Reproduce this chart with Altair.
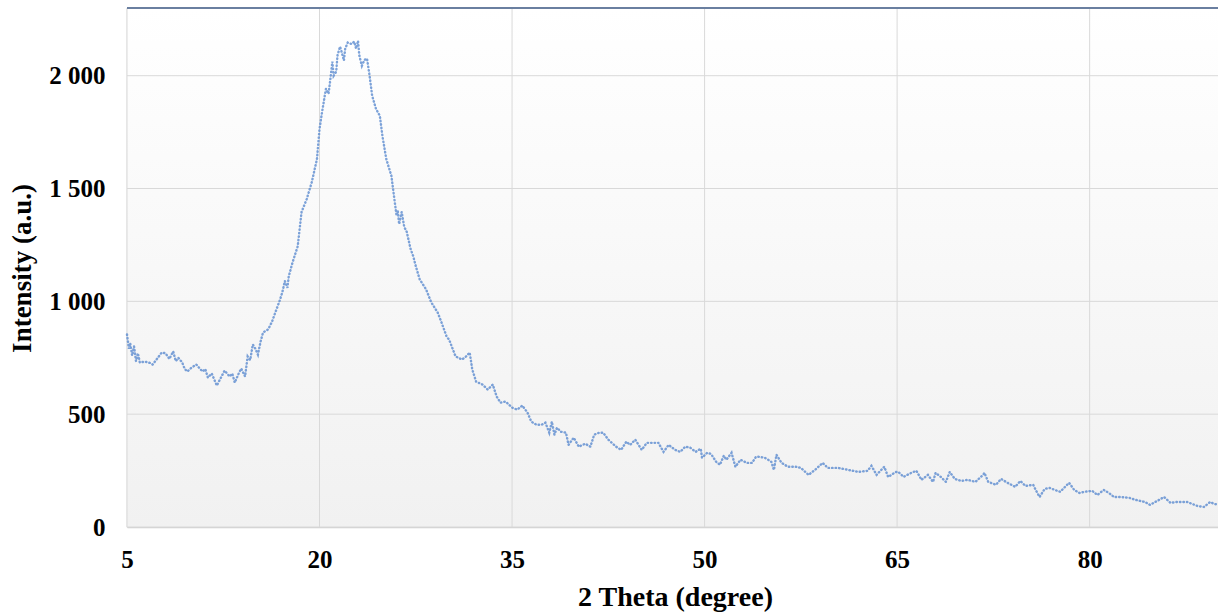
import altair as alt
import pandas as pd

theta = [5.00, 5.15, 5.25, 5.40, 5.55, 5.70, 5.85, 6.0, 6.4, 6.8, 7.0, 7.4, 7.7, 8.0, 8.3, 8.6, 8.8, 9.0, 9.3, 9.5,
         9.7, 10.0, 10.4, 10.7, 10.9, 11.1, 11.3, 11.6, 12.0, 12.3, 12.6, 12.8, 13.0, 13.2, 13.4, 13.7, 13.9, 14.0,
         14.2, 14.4, 14.6, 14.8, 15.0, 15.2, 15.4, 15.6, 16.0, 16.3, 16.5, 16.9, 17.1, 17.3, 17.5, 17.6, 17.9, 18.3,
         18.6, 19.0, 19.4, 19.8, 20.0, 20.2, 20.5, 20.7, 20.8, 21.0, 21.1, 21.3, 21.4, 21.6, 21.75, 21.9, 22.0, 22.2,
         22.5, 22.7, 22.85, 23.0, 23.1, 23.3, 23.5, 23.7, 23.9, 24.1, 24.4, 24.7, 24.9, 25.2, 25.6, 25.8, 26.0, 26.1,
         26.2, 26.4, 26.6, 26.8, 27.1, 27.3, 27.5, 27.8, 28.0, 28.3, 28.7, 29.2, 29.5, 29.9, 30.1, 30.3, 30.6, 31.1,
         31.4, 31.7, 31.9, 32.2, 32.7, 33.1, 33.5, 33.8, 34.1, 34.5, 35.0, 35.4, 35.8, 36.2, 36.5, 36.9, 37.3, 37.6,
         37.9, 38.1, 38.3, 38.5, 38.8, 39.2, 39.4, 39.8, 40.2, 40.7, 41.1, 41.4, 41.8, 42.1, 42.5, 43.1, 43.5, 43.9,
         44.2, 44.6, 45.1, 45.5, 45.9, 46.4, 46.8, 47.2, 47.7, 48.1, 48.5, 48.9, 49.3, 49.7, 49.8, 50.2, 50.5, 50.9,
         51.2, 51.5, 51.7, 52.1, 52.4, 52.8, 53.3, 53.7, 54.0, 54.2, 54.7, 55.2, 55.4, 55.6, 56.0, 56.5, 57.1, 57.5,
         58.1, 58.6, 59.2, 59.6, 60.4, 61.2, 62.0, 62.7, 63.0, 63.4, 64.0, 64.3, 64.9, 65.1, 65.5, 66.1, 66.5, 66.9,
         67.4, 67.8, 68.0, 68.4, 68.8, 69.1, 69.5, 70.0, 70.5, 71.1, 71.7, 71.8, 72.1, 72.7, 73.1, 73.6, 74.2, 74.6,
         75.0, 75.6, 75.8, 76.1, 76.5, 76.9, 77.3, 77.7, 78.4, 78.8, 79.2, 79.6, 80.2, 80.6, 81.1, 81.5, 81.9, 82.4,
         83.1, 83.6, 84.3, 84.7, 85.4, 85.8, 86.3, 86.8, 87.6, 88.4, 88.9, 89.4, 89.7, 90.0]

intensity = [853, 790, 815, 760, 800, 735, 770, 729, 733, 727, 720, 750, 773, 770, 745, 778, 735, 750, 729, 700,
             689, 705, 720, 700, 689, 700, 662, 680, 627, 660, 693, 680, 667, 680, 640, 680, 702, 690,
             667, 756, 740, 809, 790, 764, 820, 862, 876, 910, 942, 1004, 1040, 1090, 1060, 1110, 1173, 1244,
             1396, 1453, 1529, 1631, 1764, 1840, 1942, 1920, 1964, 2062, 2000, 2018, 2090, 2129, 2100, 2067, 2120, 2147,
             2140, 2151, 2120, 2155, 2089, 2044, 2070, 2076, 2000, 1911, 1853, 1822, 1733, 1631, 1556, 1467, 1380, 1400,
             1342, 1396, 1330, 1307, 1231, 1200, 1156, 1098, 1080, 1053, 996, 951, 907, 844, 830, 800, 756, 742,
             755, 773, 698, 644, 631, 609, 631, 578, 551, 556, 529, 520, 538, 507, 467, 453, 453, 462,
             418, 467, 409, 440, 422, 418, 364, 396, 356, 369, 356, 409, 418, 418, 387, 356, 342, 378,
             364, 387, 342, 373, 373, 373, 333, 364, 342, 333, 356, 351, 333, 347, 307, 329, 324, 289,
             276, 316, 298, 329, 267, 298, 284, 284, 311, 311, 307, 289, 253, 320, 284, 267, 267, 262,
             231, 253, 284, 262, 262, 253, 244, 249, 271, 231, 267, 222, 244, 244, 222, 240, 249, 209,
             231, 200, 240, 222, 200, 244, 213, 204, 209, 200, 231, 240, 200, 187, 213, 196, 178, 204,
             182, 187, 164, 133, 169, 173, 164, 156, 196, 164, 151, 156, 160, 142, 164, 151, 133, 133,
             129, 120, 111, 98, 120, 133, 107, 111, 111, 93, 89, 111, 102, 100]

x_ticks = [5, 20, 35, 50, 65, 80]
y_ticks = [0, 500, 1000, 1500, 2000]

df = pd.DataFrame({"theta": theta, "intensity": intensity})
xg = pd.DataFrame({"v": x_ticks})
yg = pd.DataFrame({"v": y_ticks})

W, H = 1091, 519
FONT = "Liberation Serif"
xscale = alt.Scale(domain=[5, 90], nice=False, zero=False)
yscale = alt.Scale(domain=[0, 2300], nice=False)

bg = alt.Chart(df).mark_rect(
    color=alt.LinearGradient(gradient="linear",
                             stops=[alt.GradientStop(color="#ffffff", offset=0),
                                    alt.GradientStop(color="#f1f1f1", offset=1)],
                             x1=0, x2=0, y1=0, y2=1)
).encode(x=alt.value(0), x2=alt.value(W), y=alt.value(0), y2=alt.value(H))

xgrid = alt.Chart(xg).mark_rule(color="#d9d9d9", strokeWidth=1).encode(
    x=alt.X("v:Q", scale=xscale))
ygrid = alt.Chart(yg).mark_rule(color="#d9d9d9", strokeWidth=1).encode(
    y=alt.Y("v:Q", scale=yscale))

line = alt.Chart(df).mark_line(
    color="#5b8bd0", strokeWidth=2.4, strokeDash=[0.5, 3.0], strokeCap="round", opacity=0.8
).encode(
    x=alt.X("theta:Q", scale=xscale,
            axis=alt.Axis(values=x_ticks, title="2 Theta (degree)", labelFontSize=25,
                          labelPadding=20, ticks=False, labelFlush=False, grid=False,
                          titleFontSize=28, titleX=548, titleY=70, titleBaseline="middle",
                          titleAlign="center")),
    y=alt.Y("intensity:Q", scale=yscale,
            axis=alt.Axis(values=y_ticks, title="Intensity (a.u.)", labelFontSize=25,
                          labelPadding=22, ticks=False, grid=False,
                          labelExpr="replace(format(datum.value, ','), ',', ' ')",
                          titleFontSize=27, titleX=-105, titleY=260, titleAngle=270,
                          titleBaseline="middle", titleAlign="center")),
)

top_border = alt.Chart(df).mark_rule(color="#6a7fa0", strokeWidth=2).encode(
    x=alt.value(0), x2=alt.value(W), y=alt.value(0)
)

chart = alt.layer(bg, xgrid, ygrid, line, top_border).properties(
    width=W, height=H,
    padding={"left": 127, "top": 8, "right": 0, "bottom": 85},
    autosize=alt.AutoSizeParams(type="none"),
    background="white",
).configure_view(
    stroke=None,
).configure_axis(
    labelFont=FONT, titleFont=FONT, labelFontWeight="bold", titleFontWeight="bold",
    labelColor="black", titleColor="black", zindex=1,
    domainColor="#d0d0d0", domainWidth=1.5,
)

chart.save("out.html", embed_options={"renderer": "svg", "actions": False})
